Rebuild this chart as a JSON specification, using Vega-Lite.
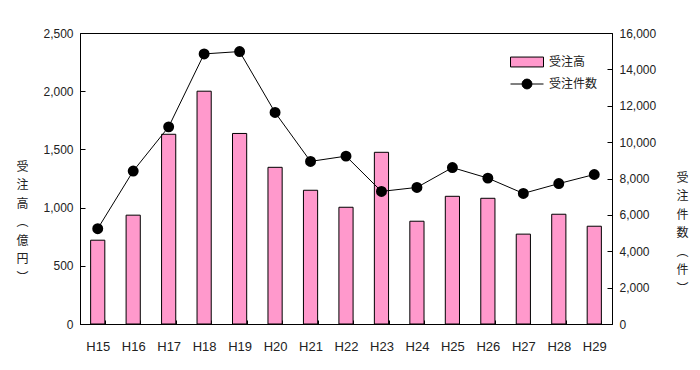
{
  "$schema": "https://vega.github.io/schema/vega-lite/v6.json",
  "width": 532,
  "height": 291,
  "autosize": {"type": "none"},
  "padding": {"left": 80, "top": 33, "right": 88, "bottom": 46},
  "background": "white",
  "config": {
    "view": {"stroke": "black", "strokeWidth": 1},
    "axis": {
      "domainColor": "black",
      "tickColor": "black",
      "labelColor": "#222",
      "labelFont": "Liberation Sans",
      "labelFontSize": 12,
      "grid": false,
      "titleFont": "Noto Sans CJK JP",
      "titleFontSize": 12,
      "titleFontWeight": "normal",
      "titleColor": "#222"
    },
    "legend": {
      "labelFont": "Noto Sans CJK JP",
      "labelFontSize": 12,
      "labelColor": "#222",
      "padding": 0
    }
  },
  "data": {
    "values": [
      {"year": "H15", "amount": 720, "count": 5240},
      {"year": "H16", "amount": 935, "count": 8410},
      {"year": "H17", "amount": 1630, "count": 10840},
      {"year": "H18", "amount": 2000, "count": 14850},
      {"year": "H19", "amount": 1637, "count": 14980},
      {"year": "H20", "amount": 1346, "count": 11630},
      {"year": "H21", "amount": 1149, "count": 8940},
      {"year": "H22", "amount": 1003, "count": 9230},
      {"year": "H23", "amount": 1475, "count": 7290},
      {"year": "H24", "amount": 883, "count": 7510},
      {"year": "H25", "amount": 1097, "count": 8600},
      {"year": "H26", "amount": 1080, "count": 8020},
      {"year": "H27", "amount": 772, "count": 7180},
      {"year": "H28", "amount": 943, "count": 7720},
      {"year": "H29", "amount": 840, "count": 8220}
    ]
  },
  "encoding": {
    "x": {
      "field": "year",
      "type": "nominal",
      "sort": null,
      "scale": {"paddingInner": 0.6, "paddingOuter": 0.3},
      "axis": {
        "title": null,
        "labelAngle": 0,
        "labelFontSize": 13,
        "tickBand": "extent",
        "tickSize": -4,
        "labelPadding": 20
      }
    }
  },
  "layer": [
    {
      "mark": {"type": "bar", "stroke": "black", "strokeWidth": 1},
      "encoding": {
        "y": {
          "field": "amount",
          "type": "quantitative",
          "scale": {"domain": [0, 2500]},
          "axis": {
            "values": [0, 500, 1000, 1500, 2000, 2500],
            "format": ",d",
            "tickSize": -5,
            "labelPadding": 12,
            "title": ["受", "注", "高", "︵", "億", "円", "︶"],
            "titleAngle": 0,
            "titleLineHeight": 18.5,
            "titleX": -58,
            "titleY": 133,
            "titleAlign": "center",
            "titleBaseline": "middle"
          }
        },
        "fill": {
          "datum": "受注高",
          "type": "nominal",
          "scale": {"range": ["#FF99CC"]},
          "legend": {
            "title": null,
            "orient": "none",
            "legendX": 430,
            "legendY": 12,
            "symbolType": "M-1,-0.3H1V0.3H-1Z",
            "symbolSize": 1089,
            "symbolStrokeColor": "black",
            "symbolStrokeWidth": 1,
            "labelOffset": 5
          }
        }
      }
    },
    {
      "mark": {"type": "line", "color": "black", "strokeWidth": 1, "point": {"filled": true, "size": 80, "color": "black"}},
      "encoding": {
        "y": {
          "field": "count",
          "type": "quantitative",
          "scale": {"domain": [0, 16000]},
          "axis": {
            "orient": "right",
            "values": [0, 2000, 4000, 6000, 8000, 10000, 12000, 14000, 16000],
            "format": ",d",
            "tickSize": -5,
            "labelPadding": 12,
            "title": ["受", "注", "件", "数", "︵", "件", "︶"],
            "titleAngle": 0,
            "titleLineHeight": 18.5,
            "titleX": 70,
            "titleY": 144,
            "titleAlign": "center",
            "titleBaseline": "middle"
          }
        },
        "stroke": {
          "datum": "受注件数",
          "type": "nominal",
          "scale": {"range": ["black"]},
          "legend": {
            "title": null,
            "orient": "none",
            "legendX": 430,
            "legendY": 34,
            "symbolType": "M-1,0H1M0.3,0A0.3,0.3 0 1 1 -0.3,0A0.3,0.3 0 1 1 0.3,0Z",
            "symbolSize": 1089,
            "symbolStrokeWidth": 1,
            "labelOffset": 5,
            "encode": {"symbols": {"update": {"fill": {"value": "black"}, "stroke": {"value": "black"}}}}
          }
        }
      }
    }
  ],
  "resolve": {"scale": {"y": "independent"}}
}
